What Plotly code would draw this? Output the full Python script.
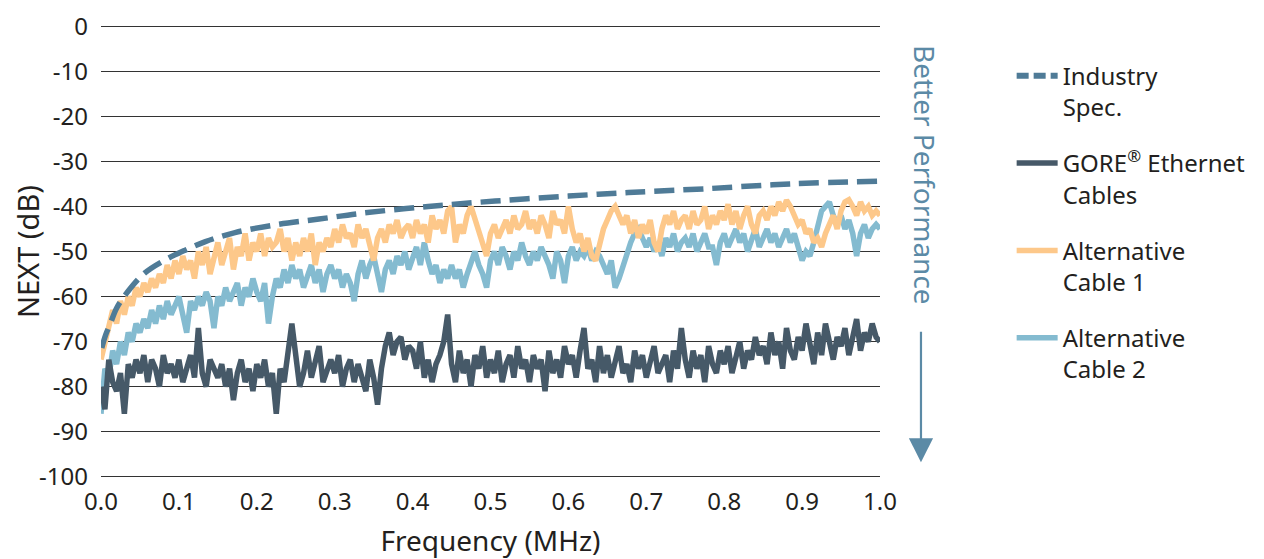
import plotly.graph_objects as go

# ---------------- data ----------------
freq = [round(i * 0.005, 3) for i in range(201)]

gore = [
    -80, -85, -74, -79, -81, -77, -86, -75, -78, -74,
    -77, -73, -79, -74, -76, -80, -73, -77, -75, -78,
    -74, -79, -76, -73, -78, -67, -77, -80, -74, -76,
    -78, -75, -80, -76, -83, -77, -74, -79, -76, -81,
    -75, -78, -74, -80, -77, -86, -76, -79, -73, -66,
    -73, -80, -77, -72, -78, -75, -71, -79, -76, -74,
    -77, -73, -80, -76, -74, -79, -75, -78, -81, -74,
    -78, -84, -76, -71, -68, -73, -70, -69, -74, -71,
    -72, -76, -70, -78, -74, -79, -75, -73, -70, -64,
    -75, -79, -72, -77, -74, -80, -73, -76, -71, -78,
    -74, -77, -72, -79, -75, -73, -78, -71, -76, -74,
    -79, -73, -76, -74, -81, -72, -77, -74, -78, -71,
    -75, -73, -78, -72, -67, -76, -74, -79, -71, -77,
    -73, -78, -74, -71, -77, -75, -79, -72, -76, -73,
    -78, -74, -71, -77, -75, -73, -79, -72, -76, -67,
    -74, -78, -72, -76, -73, -79, -71, -75, -77, -72,
    -75, -71, -77, -73, -70, -76, -72, -74, -69, -73,
    -71, -75, -68, -73, -70, -76, -67, -72, -74, -69,
    -72, -66, -71, -75, -68, -73, -66, -70, -74, -69,
    -71, -67, -73, -69, -65, -72, -68, -70, -66, -69,
    -70,
]

alt1 = [
    -74, -70, -67, -63, -66, -61, -64, -60, -62, -58,
    -60, -57, -59, -56, -58, -55, -57, -53, -56, -52,
    -55, -51, -54, -52, -56, -50, -53, -49, -55, -51,
    -48, -53, -50, -47, -54, -49, -51, -46, -52, -48,
    -50, -46, -51, -47, -49, -48, -45, -50, -47, -52,
    -48, -51, -47, -50, -46, -53, -48, -50, -47, -49,
    -45, -48, -44, -47, -46, -49, -44, -47, -45, -48,
    -52, -47, -45, -48, -44, -46, -43, -47, -45, -44,
    -47, -43, -46, -44, -48, -42, -45, -43, -46, -41,
    -40, -48, -44, -46, -42, -40, -43, -46, -49, -51,
    -46, -44, -47, -45, -43, -46, -42, -45, -44, -41,
    -45, -43, -46, -42, -44, -47, -41, -44, -43, -46,
    -40, -45, -48, -46, -50, -47, -51, -52, -48, -45,
    -43, -41, -40, -42, -44, -42, -46, -43, -47, -44,
    -46, -43, -48, -50, -45, -42, -44, -41, -45, -43,
    -42, -45, -41, -44, -43, -40, -45, -42, -44, -41,
    -43, -39.5, -44, -41, -45, -42, -40, -44, -46, -42,
    -41, -43, -40, -42, -39, -41, -38.6, -40, -42, -44,
    -43, -46, -45, -48, -47, -49, -46, -44, -42, -45,
    -41, -39, -38.5, -40, -42, -39, -41, -40, -42, -41,
    -42,
]

alt2 = [
    -86, -76, -78, -72, -75, -70, -73, -68, -70, -66,
    -68, -65, -67, -63, -66, -62, -65, -61, -64, -62,
    -60, -64, -68, -61, -63, -60, -62, -59, -61, -67,
    -60, -62, -58, -61, -59, -57, -62, -58, -60, -56,
    -59, -61, -57, -66, -60, -56, -58, -54, -57, -53,
    -56, -54, -58, -55, -53, -57, -54, -59, -55, -53,
    -56, -54, -58, -55, -57, -61, -55, -52, -56, -53,
    -51, -55, -59, -54, -52, -55, -51, -53, -50, -54,
    -51, -49, -53, -48, -52, -55, -53, -57, -54, -56,
    -53, -56, -54, -58, -55, -52, -50, -53, -55, -58,
    -52, -50, -53, -49, -51, -54, -50, -52, -48, -51,
    -53, -50, -52, -49, -51, -53, -56, -50, -52, -57,
    -51, -49, -52, -50, -51, -49, -52, -50, -51, -53,
    -55, -52, -58, -56, -53, -51, -48, -46, -45, -47,
    -49, -47, -50, -48, -51, -47, -49, -46, -50, -48,
    -47, -49, -46, -50, -48, -46, -49, -49, -53, -48,
    -46, -49, -47, -45, -48, -46, -50, -47, -45, -49,
    -47, -45, -48, -46, -49, -47, -45, -48, -46, -49,
    -52, -50, -51, -48, -44, -41, -40, -39, -42, -44,
    -42, -45, -43, -46, -51, -46, -44, -47, -45, -44,
    -45,
]

spec_freq = [0.001, 0.006, 0.012, 0.02, 0.034, 0.056, 0.082, 0.108, 0.134, 0.172,
             0.227, 0.28, 0.335, 0.42, 0.506, 0.6, 0.677, 0.773, 0.884, 1.0]
spec = [-71.4, -68.5, -66.0, -62.6, -59.0, -54.8, -51.9, -49.7, -47.8, -45.8,
        -44.0, -42.8, -41.5, -40.0, -38.8, -37.7, -36.9, -36.1, -35.0, -34.4]

y_ticks = [0, -10, -20, -30, -40, -50, -60, -70, -80, -90, -100]
x_ticks = [0.0, 0.1, 0.2, 0.3, 0.4, 0.5, 0.6, 0.7, 0.8, 0.9, 1.0]

# ---------------- style ----------------
FONT = "Noto Sans"
TXT = "#231f20"
C_SPEC = "#4f7b97"
C_GORE = "#465968"
C_ALT1 = "#fdc88a"
C_ALT2 = "#84bbd0"
C_NOTE = "#5b8aa6"

fig = go.Figure()

fig.add_trace(go.Scatter(x=freq, y=alt2, mode="lines", name="Alternative<br>Cable 2",
                         line=dict(color=C_ALT2, width=5.5), legendgroup="d", legendrank=4))
fig.add_trace(go.Scatter(x=freq, y=alt1, mode="lines", name="Alternative<br>Cable 1",
                         line=dict(color=C_ALT1, width=5.5), legendgroup="c", legendrank=3))
fig.add_trace(go.Scatter(x=freq, y=gore, mode="lines", name="GORE<sup>®</sup> Ethernet<br>Cables",
                         line=dict(color=C_GORE, width=5.5), legendgroup="b", legendrank=2))
fig.add_trace(go.Scatter(x=spec_freq, y=spec, mode="lines", name="Industry<br>Spec.",
                         line=dict(color=C_SPEC, width=5.5, dash="20px,9px", shape="spline"),
                         legendgroup="a", showlegend=False))
# legend proxy for the dashed spec line (shorter dashes, as in the key)
fig.add_trace(go.Scatter(x=[None], y=[None], mode="lines", name="Industry<br>Spec.",
                         line=dict(color=C_SPEC, width=6, dash="12px,5px"),
                         legendgroup="a", legendrank=1))

fig.update_layout(
    width=1256, height=551,
    margin=dict(l=93, r=384, t=16, b=80, autoexpand=False),
    paper_bgcolor="white", plot_bgcolor="white",
    font=dict(family=FONT, color=TXT, size=22),
    showlegend=True,
    legend=dict(x=1.169, xanchor="left", y=0.935, yanchor="top",
                traceorder="grouped", tracegroupgap=22, valign="top",
                itemwidth=41, font=dict(size=24, color=TXT),
                bgcolor="rgba(0,0,0,0)"),
    xaxis=dict(range=[0, 1], tickvals=x_ticks, ticktext=[f"{v:.1f}" for v in x_ticks],
               showgrid=False, zeroline=False, showline=False, ticks="",
               ticklabelstandoff=6,
               tickfont=dict(size=24, color=TXT),
               title=dict(text="Frequency (MHz)", font=dict(size=28, color=TXT), standoff=18)),
    yaxis=dict(range=[-100.5, 0.5], tickvals=y_ticks, ticktext=[str(v) for v in y_ticks],
               showgrid=True, gridcolor="#333333", gridwidth=1.3, zeroline=False,
               showline=False, ticks="", ticklabelstandoff=12,
               tickfont=dict(size=24, color=TXT),
               title=dict(text="NEXT (dB)", font=dict(size=29, color=TXT), standoff=1)),
)

# "Better Performance" note with arrow
fig.add_annotation(xref="paper", yref="y", x=1.0847, y=-33.0, text="Better Performance",
                   textangle=90, showarrow=False, font=dict(size=28, color=C_NOTE, family=FONT))
fig.add_annotation(xref="paper", yref="y", x=1.0526, y=-96.8, text="", showarrow=True,
                   ax=0, ay=-132, arrowhead=2, arrowsize=2.2, arrowwidth=2.2,
                   arrowcolor=C_NOTE)

fig.write_html("out.html")
